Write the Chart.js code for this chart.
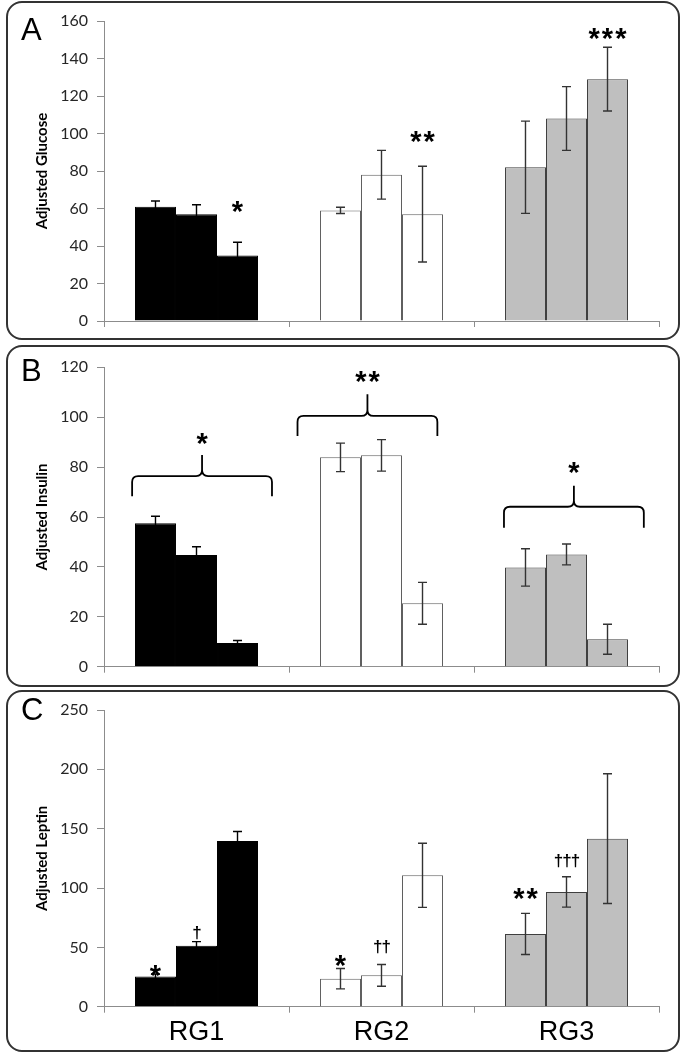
<!DOCTYPE html>
<html>
<head>
<meta charset="utf-8">
<script src="https://cdn.jsdelivr.net/npm/chart.js@4.4.1/dist/chart.umd.min.js"></script>
<style>
  html, body { margin: 0; padding: 0; background: #fff; }
  body { position: relative; width: 685px; height: 1058px; overflow: hidden; }
  canvas { position: absolute; left: 0; }
  .frame { position: absolute; left: 6px; width: 670px; border: 2px solid #333; border-radius: 16px; pointer-events: none; }
  .letter { position: absolute; left: 21px; font: 31px 'Liberation Sans', Arial, sans-serif; line-height: 1; color: #000; }
</style>
</head>
<body>
<canvas id="chartA" width="685" height="340" style="top:0px"></canvas>
<canvas id="chartB" width="685" height="346" style="top:340px"></canvas>
<canvas id="chartC" width="685" height="370" style="top:688px"></canvas>
<div class="frame" style="top:1px;height:335px"></div>
<div class="frame" style="top:345px;height:338px"></div>
<div class="frame" style="top:690px;height:358px"></div>
<div class="letter" style="top:14px">A</div>
<div class="letter" style="top:355px">B</div>
<div class="letter" style="top:694px">C</div>
<script>
// groups on the x axis, three bars per group
const groups = ['RG1', 'RG2', 'RG3'];
const groupFill = ['#000000', '#ffffff', '#bfbfbf'];
const groupEdge = ['#000000', '#5f5f5f', '#3f3f3f'];
const groupWhisker = ['#000000', '#333333', '#333333'];

// Panel A - glucose (rows = groups, columns = bar 1..3)
const glucoseMean = [[61, 57, 35], [59, 78, 57], [82, 108, 129]];
const glucoseErr = [[3, 5, 7], [1.7, 13, 25.5], [24.6, 17, 17]];
const glucoseAxis = [0, 160, 20];
// [group, bar, text, y of the mark]
const glucoseMarks = [[0, 2, '*', 61], [1, 2, '**', 98], [2, 2, '***', 153]];

// Panel B - insulin
const insulinMean = [[57.5, 44.8, 9.5], [83.9, 84.7, 25.4], [39.8, 45, 11]];
const insulinErr = [[2.8, 3.3, 1], [5.7, 6.3, 8.4], [7.5, 4.2, 6]];
const insulinAxis = [0, 120, 20];
// [x centre (group units), tip y, line y, peak y, text y, text]
const insulinBraces = [
  [0.03, 68.3, 76.4, 84.8, 91.2, '*'],
  [0.924, 92.5, 100.5, 109.2, 116.2, '**'],
  [2.04, 55.7, 64.1, 72.5, 79.5, '*']
];

// Panel C - leptin
const leptinMean = [[25.5, 51.4, 139.6], [23.6, 26.4, 110.7], [61.3, 96.7, 141.6]];
const leptinErr = [[2, 3.4, 8], [8.6, 9.2, 27], [17.3, 12.8, 54.7]];
const leptinAxis = [0, 250, 50];
const leptinMarks = [
  [0, 0, '*', 30.3], [0, 1, '\u2020', 62.5],
  [1, 0, '*', 38.7], [1, 1, '\u2020\u2020', 50.6],
  [2, 0, '**', 94.7], [2, 1, '\u2020\u2020\u2020', 123]
];

Chart.defaults.font.family = 'Lato';

// draws a label centred on (x, yPix) using its real glyph box
function drawMark(ctx, text, x, yPix) {
  const star = text.indexOf('*') >= 0;
  ctx.font = star ? 'bold 29px "Liberation Sans"' : 'bold 17px "Liberation Sans"';
  ctx.letterSpacing = star ? '2px' : '-1px';
  ctx.textAlign = 'center';
  ctx.textBaseline = 'alphabetic';
  ctx.fillStyle = '#000';
  const mt = ctx.measureText(text);
  const shift = star ? 1 : 0;
  ctx.fillText(text, x + shift, yPix + (mt.actualBoundingBoxAscent - mt.actualBoundingBoxDescent) / 2);
}

const errorBars = {
  id: 'errorBars',
  afterDatasetsDraw(chart, args, opts) {
    const ctx = chart.ctx;
    const y = chart.scales.y;
    ctx.save();
    ctx.lineWidth = 1.4;
    opts.err.forEach((row, g) => row.forEach((e, b) => {
      const bar = chart.getDatasetMeta(b).data[g];
      const m = opts.mean[g][b];
      const top = y.getPixelForValue(m + e);
      const bot = y.getPixelForValue(m - e);
      ctx.strokeStyle = groupWhisker[g];
      ctx.beginPath();
      ctx.moveTo(bar.x, top); ctx.lineTo(bar.x, bot);
      ctx.moveTo(bar.x - 4.5, top); ctx.lineTo(bar.x + 4.5, top);
      ctx.moveTo(bar.x - 4.5, bot); ctx.lineTo(bar.x + 4.5, bot);
      ctx.stroke();
    }));
    ctx.restore();
  }
};

const sigMarks = {
  id: 'sigMarks',
  afterDatasetsDraw(chart, args, opts) {
    const ctx = chart.ctx;
    const y = chart.scales.y;
    ctx.save();
    (opts.marks || []).forEach(([g, b, text, v]) => {
      const bar = chart.getDatasetMeta(b).data[g];
      drawMark(ctx, text, bar.x, y.getPixelForValue(v));
    });
    ctx.restore();
  }
};

const braces = {
  id: 'braces',
  afterDatasetsDraw(chart, args, opts) {
    const ctx = chart.ctx;
    const {x, y} = chart.scales;
    const half = 0.378;
    const r = 6;
    ctx.save();
    ctx.strokeStyle = '#000';
    ctx.lineWidth = 1.8;
    (opts.braces || []).forEach(([c, tipV, lineV, peakV, textV, text]) => {
      const x0 = x.getPixelForValue(c - half);
      const x1 = x.getPixelForValue(c + half);
      const xm = x.getPixelForValue(c);
      const tip = y.getPixelForValue(tipV);
      const line = y.getPixelForValue(lineV);
      const peak = y.getPixelForValue(peakV);
      ctx.beginPath();
      ctx.moveTo(x0, tip);
      ctx.lineTo(x0, line + r);
      ctx.quadraticCurveTo(x0, line, x0 + r, line);
      ctx.lineTo(xm - r, line);
      ctx.quadraticCurveTo(xm, line, xm, line - r);
      ctx.lineTo(xm, peak);
      ctx.moveTo(xm, line - r);
      ctx.quadraticCurveTo(xm, line, xm + r, line);
      ctx.lineTo(x1 - r, line);
      ctx.quadraticCurveTo(x1, line, x1, line + r);
      ctx.lineTo(x1, tip);
      ctx.stroke();
      drawMark(ctx, text, xm, y.getPixelForValue(textV));
    });
    ctx.restore();
  }
};

function makePanel(id, mean, err, axis, title, areaTop, areaBottom, showLabels, marks, braceList) {
  const canvas = document.getElementById(id);
  const datasets = [0, 1, 2].map(b => ({
    data: mean.map(row => row[b]),
    backgroundColor: groupFill,
    borderColor: groupEdge,
    borderWidth: 1,
    categoryPercentage: 0.665,
    barPercentage: 1.0
  }));
  return new Chart(canvas, {
    type: 'bar',
    data: { labels: groups, datasets: datasets },
    options: {
      responsive: false,
      animation: false,
      devicePixelRatio: 1,
      layout: { padding: { top: areaTop, right: 26, left: 0, bottom: 0 } },
      plugins: {
        legend: { display: false },
        tooltip: { enabled: false },
        errorBars: { mean: mean, err: err },
        sigMarks: { marks: marks },
        braces: { braces: braceList }
      },
      scales: {
        x: {
          offset: true,
          grid: { drawOnChartArea: false, drawTicks: true, tickLength: 6, color: '#8c8c8c', offset: true },
          border: { color: '#8c8c8c', width: 1 },
          ticks: {
            display: showLabels,
            color: '#000',
            padding: 4,
            font: { family: '"Liberation Sans Narrow", "Liberation Sans"', size: 27 }
          },
          afterFit: s => { s.height = canvas.height - areaBottom; }
        },
        y: {
          min: axis[0],
          max: axis[1],
          grid: { drawOnChartArea: false, tickLength: 7, color: '#8c8c8c' },
          border: { color: '#8c8c8c', width: 1 },
          ticks: { stepSize: axis[2], color: '#262626', padding: 9, font: { family: 'Lato', size: 16 } },
          title: {
            display: true,
            text: title,
            color: '#000',
            padding: { top: 33, bottom: 0 },
            font: { family: 'Lato', size: 15, weight: 'bold' }
          },
          afterFit: s => { s.width = 104; }
        }
      }
    },
    plugins: [errorBars, sigMarks, braces]
  });
}

makePanel('chartA', glucoseMean, glucoseErr, glucoseAxis, 'Adjusted Glucose', 21, 321, false, glucoseMarks, []);
makePanel('chartB', insulinMean, insulinErr, insulinAxis, 'Adjusted Insulin', 27.3, 326.7, false, [], insulinBraces);
makePanel('chartC', leptinMean, leptinErr, leptinAxis, 'Adjusted Leptin', 22, 318.7, true, leptinMarks, []);
</script>
</body>
</html>
